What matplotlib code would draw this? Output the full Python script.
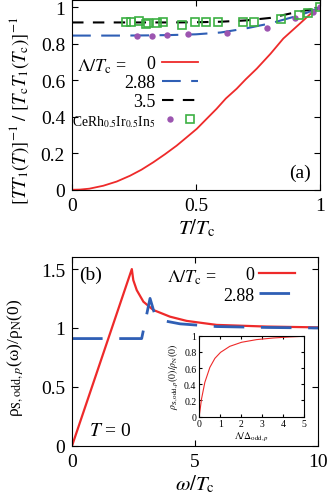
import matplotlib
matplotlib.use("Agg")
import matplotlib.pyplot as plt
from matplotlib.legend_handler import HandlerTuple

plt.rcParams['font.family'] = ['Liberation Serif', 'DejaVu Serif']
plt.rcParams['mathtext.fontset'] = 'stix'
plt.rcParams['xtick.direction'] = 'in'
plt.rcParams['ytick.direction'] = 'in'
plt.rcParams['xtick.top'] = True
plt.rcParams['ytick.right'] = True

# panel (a): relaxation rate
T_red = [0, 0.032, 0.07, 0.126, 0.18, 0.234, 0.28, 0.328, 0.375, 0.422, 0.46, 0.503,
         0.54, 0.583, 0.62, 0.664, 0.70, 0.745, 0.80, 0.852, 0.91, 0.968, 1.0]
r_red = [0, 0.001, 0.006, 0.022, 0.045, 0.077, 0.11, 0.151, 0.195, 0.242, 0.285, 0.334,
         0.385, 0.444, 0.50, 0.554, 0.605, 0.664, 0.745, 0.829, 0.90, 0.972, 1.0]
T_blue = [0, 0.1, 0.2, 0.3, 0.4, 0.5, 0.6, 0.7, 0.8, 0.9, 0.95, 1.0]
r_blue = [0.845, 0.845, 0.845, 0.846, 0.848, 0.852, 0.862, 0.884, 0.912, 0.950, 0.972, 1.0]
T_black = [0, 0.2, 0.4, 0.5, 0.6, 0.7, 0.8, 0.9, 0.95, 1.0]
r_black = [0.917, 0.917, 0.917, 0.918, 0.921, 0.928, 0.942, 0.972, 0.985, 1.0]

T_circ = [0.261, 0.321, 0.384, 0.469, 0.624, 0.788, 0.899, 0.970, 1.0]
r_circ = [0.844, 0.844, 0.848, 0.851, 0.861, 0.884, 0.939, 0.976, 1.0]
T_sq = [0.218, 0.237, 0.268, 0.298, 0.308, 0.344, 0.368, 0.442, 0.496, 0.540, 0.590,
        0.688, 0.734, 0.841, 0.917, 0.953, 1.0]
r_sq = [0.917, 0.917, 0.927, 0.908, 0.912, 0.914, 0.921, 0.903, 0.921, 0.921, 0.921,
        0.917, 0.919, 0.936, 0.958, 0.969, 1.0]

# panel (b): density of states at T = 0
w_red = [0, 2.43, 2.49, 2.63, 2.90, 3.30, 3.98, 4.66, 5.88, 7.9, 10]
d_red = [0, 1.5, 1.406, 1.321, 1.223, 1.153, 1.096, 1.060, 1.026, 1.012, 1.005]
w_blue = [0, 2.83, 3.17, 3.37, 3.71, 4.39, 5.88, 8, 10]
d_blue = [0.91, 0.91, 1.251, 1.11, 1.062, 1.035, 1.012, 1.004, 1.0]

# inset
lam = [0, 0.11, 0.27, 0.51, 0.75, 1.02, 1.46, 2.02, 2.74, 3.54, 4.33, 5]
d0 = [0, 0.218, 0.424, 0.609, 0.72, 0.794, 0.868, 0.918, 0.951, 0.971, 0.984, 0.992]

red = '#ee2a2a'
blue = '#2f5fb5'
purple = '#9c55b0'
green = '#3cb043'

fig = plt.figure(figsize=(3.32, 5.02), dpi=100)
ax1 = fig.add_axes([0.217, 0.620, 0.747, 0.378])
ax2 = fig.add_axes([0.217, 0.110, 0.741, 0.3755])
ax3 = fig.add_axes([0.600, 0.168, 0.3154, 0.1614])

# ---- (a)
l0, = ax1.plot(T_red, r_red, color=red, lw=1.3)
l1, = ax1.plot(T_blue, r_blue, color=blue, lw=1.5, dashes=(9, 5))
l2, = ax1.plot(T_black, r_black, color='black', lw=1.5, dashes=(5.5, 4.5))
pc, = ax1.plot(T_circ, r_circ, 'o', color=purple, ms=4.6, mec='none')
ps, = ax1.plot(T_sq, r_sq, 's', mfc='none', mec=green, mew=1.2, ms=5.3)
ax1.set_xlim(0, 1)
ax1.set_ylim(0, 1.04)
ax1.set_xticks([0, 0.5, 1])
ax1.set_xticklabels(['0', '0.5', '1'])
ax1.set_yticks([0, 0.2, 0.4, 0.6, 0.8, 1])
ax1.set_yticklabels(['0', '0.2', '0.4', '0.6', '0.8', '1'])
ax1.tick_params(labelsize=14, length=4, pad=5)
ax1.set_xlabel(r'$T/T_\mathrm{c}$', fontsize=15, labelpad=2)
ax1.set_ylabel(r'$[TT_1(T)]^{-1}\ /\ [T_\mathrm{c}T_1(T_\mathrm{c})]^{-1}$', fontsize=13.5)
ax1.yaxis.set_label_coords(-0.165, 0.42)
leg = ax1.legend([l0, l1, l2, (pc, ps)], ['0', '2.88', '3.5', r'CeRh$_{0.5}$Ir$_{0.5}$In$_5$'],
                 handler_map={tuple: HandlerTuple(ndivide=None, pad=0.3)},
                 markerfirst=False, frameon=False, fontsize=13, handlelength=2.0,
                 handletextpad=0.35, labelspacing=0.12, borderpad=0, borderaxespad=0,
                 loc='upper right', bbox_to_anchor=(0.508, 0.71))
leg.get_texts()[3].set_fontsize(9.8)
ax1.text(0.02, 0.655, r'$\Lambda/T_\mathrm{c}$ =', transform=ax1.transAxes,
         fontsize=13, va='center', ha='left')
ax1.text(0.965, 0.09, '(a)', transform=ax1.transAxes, fontsize=14, ha='right', va='center')

# ---- (b)
m0, = ax2.plot(w_red, d_red, color=red, lw=1.6)
m1, = ax2.plot(w_blue, d_blue, color=blue, lw=2.0, dashes=(11, 6))
ax2.set_xlim(0, 10)
ax2.set_ylim(0, 1.6)
ax2.set_xticks([0, 5, 10])
ax2.set_yticks([0, 0.5, 1, 1.5])
ax2.set_yticklabels(['0', '0.5', '1', '1.5'])
ax2.tick_params(labelsize=14, length=4, pad=5)
ax2.set_xlabel(r'$\omega/T_\mathrm{c}$', fontsize=15, labelpad=2)
ax2.set_ylabel(r'ρ$_{\mathrm{S,odd,}p}$(ω)/ρ$_\mathrm{N}$(0)', fontsize=12.5)
ax2.yaxis.set_label_coords(-0.19, 0.47)
ax2.legend([m0, m1], ['0', '2.88'], markerfirst=False, frameon=False, fontsize=13,
           handlelength=2.0, handletextpad=0.25, labelspacing=0.2, borderpad=0,
           borderaxespad=0, loc='upper right', bbox_to_anchor=(0.907, 0.954))
ax2.text(0.385, 0.895, r'$\Lambda/T_\mathrm{c}$ =', transform=ax2.transAxes,
         fontsize=13, va='center', ha='left')
ax2.text(0.03, 0.91, '(b)', transform=ax2.transAxes, fontsize=14, ha='left', va='center')
ax2.text(0.07, 0.08, r'$T$ = 0', transform=ax2.transAxes, fontsize=14, ha='left', va='center')

# ---- inset
ax3.plot(lam, d0, color=red, lw=0.8)
ax3.set_xlim(0, 5)
ax3.set_ylim(0, 1)
ax3.set_xticks([0, 1, 2, 3, 4, 5])
ax3.set_yticks([0, 0.2, 0.4, 0.6, 0.8, 1])
ax3.set_yticklabels(['0', '0.2', '0.4', '0.6', '0.8', '1'])
ax3.tick_params(labelsize=7, length=2, pad=2)
ax3.set_xlabel(r'$\Lambda/\Delta_{\mathrm{odd},p}$', fontsize=7, labelpad=1)
ax3.set_ylabel(r'$\rho_{\mathrm{S,odd},p}(0)/\rho_\mathrm{N}(0)$', fontsize=7, labelpad=2)

fig.savefig('out.png', dpi=100)
